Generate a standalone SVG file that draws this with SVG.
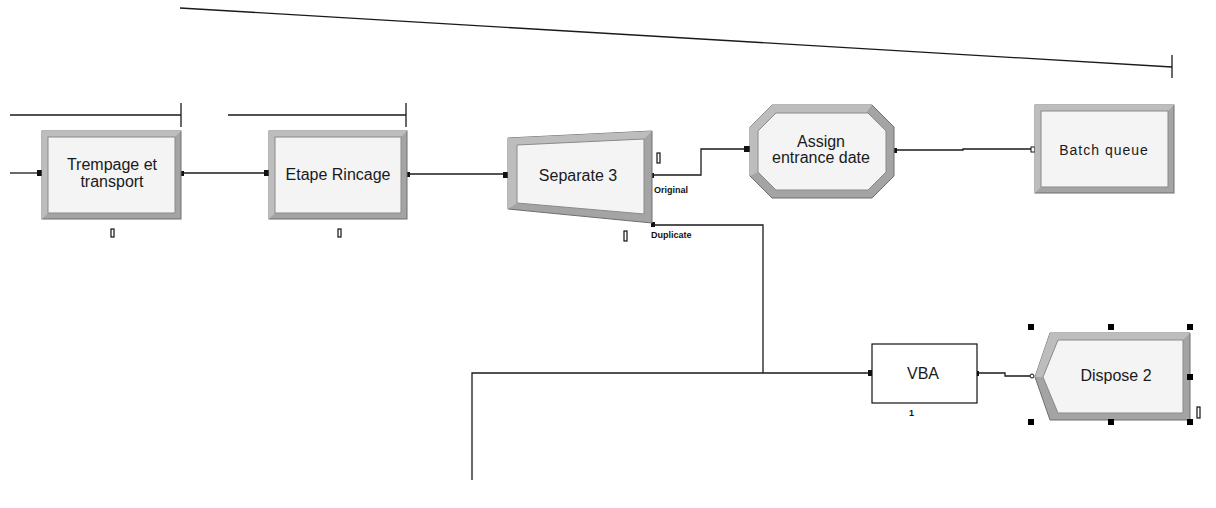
<svg xmlns="http://www.w3.org/2000/svg" width="1216" height="508" viewBox="0 0 1216 508">
<style>
.bev{fill:#a4a4a4;stroke:#6e6e6e;stroke-width:1}
.lit{fill:#bdbdbd}
.in{fill:#f4f4f4;stroke:#8a8a8a;stroke-width:1}
.lbl{font-family:"Liberation Sans",Arial,sans-serif;font-size:16px;fill:#1a1a1a;text-anchor:middle}
.sm{font-family:"Liberation Sans",Arial,sans-serif;font-size:9px;font-weight:bold;fill:#111}
.cn{fill:none;stroke:#1a1a1a;stroke-width:1.3}
.q{fill:none;stroke:#1a1a1a;stroke-width:1.3}
.ctr{fill:#fff;stroke:#111;stroke-width:1.2}
.pt{fill:#111}
.h{fill:#000}
</style>
<rect width="1216" height="508" fill="#ffffff"/>
<g id="queues">
<path class="q" d="M180,8 L1172,67 M1172,55 V78"/>
<path class="q" d="M10,115 H181 M181,103 V127"/>
<path class="q" d="M228,115 H406 M406,103 V127"/>
</g>
<g id="connectors">
<path class="cn" d="M10,173 H40"/>
<path class="cn" d="M182,173 H267"/>
<path class="cn" d="M408,174 H506"/>
<path class="cn" d="M652,175 H701 V149 H747"/>
<path class="cn" d="M895,150 H963 V149 H1032"/>
<path class="cn" d="M652,225 H763 V373"/>
<path class="cn" d="M472,480 V373 H870"/>
<path class="cn" d="M978,373 H1005 V376 H1030"/>
<rect class="pt" x="37" y="170" width="5" height="6"/>
<rect class="pt" x="181" y="171" width="3" height="5"/>
<rect class="pt" x="264" y="170" width="5" height="6"/>
<rect class="pt" x="407" y="172" width="3" height="5"/>
<rect class="pt" x="503" y="172" width="5" height="6"/>
<rect class="pt" x="651" y="173" width="3" height="5"/>
<rect class="pt" x="651" y="222" width="4" height="5"/>
<rect class="pt" x="744" y="146" width="6" height="6"/>
<rect class="pt" x="894" y="148" width="3" height="5"/>
<rect x="1031" y="147" width="4" height="5" fill="#fff" stroke="#111" stroke-width="1"/>
<rect class="pt" x="868" y="370" width="5" height="6"/>
<rect class="pt" x="976" y="371" width="3" height="5"/>
<circle cx="1032" cy="376" r="2" fill="#fff" stroke="#111" stroke-width="1"/>
</g>
<g id="trempage">
<rect class="bev" x="42" y="131" width="139" height="88"/>
<polygon class="lit" points="42,131 181,131 175,137 48,137 48,213 42,219"/>
<rect class="in" x="48" y="137" width="127" height="76"/>
<text class="lbl" x="112" y="170">Trempage et</text>
<text class="lbl" x="112" y="187">transport</text>
<rect class="ctr" x="111" y="229" width="3" height="8"/>
</g>
<g id="etape">
<rect class="bev" x="269" y="131" width="138" height="88"/>
<polygon class="lit" points="269,131 407,131 401,137 275,137 275,213 269,219"/>
<rect class="in" x="275" y="137" width="126" height="76"/>
<text class="lbl" x="338" y="180">Etape Rincage</text>
<rect class="ctr" x="338" y="229" width="3" height="8"/>
</g>
<g id="separate3">
<polygon class="bev" points="508,138 652,131 652,223 508,209"/>
<polygon class="lit" points="508,138 652,131 644,139 517,145 517,203 508,209"/>
<polygon class="in" points="517,145 644,139 644,214 517,203"/>
<text class="lbl" x="578" y="181">Separate 3</text>
<rect class="ctr" x="657" y="153" width="3" height="10"/>
<text class="sm" x="654" y="193">Original</text>
<text class="sm" x="651" y="238">Duplicate</text>
<rect class="ctr" x="624" y="231" width="3" height="10"/>
</g>
<g id="assign">
<polygon class="bev" points="772,105 872,105 894,127 894,176 872,198 772,198 750,176 750,127"/>
<polygon class="lit" points="772,105 872,105 866,113 776,113 758,131 758,172 750,176 750,127"/>
<polygon class="in" points="776,113 868,113 886,131 886,172 868,190 776,190 758,172 758,131"/>
<text class="lbl" x="821" y="147">Assign</text>
<text class="lbl" x="821" y="163">entrance date</text>
</g>
<g id="batch">
<rect class="bev" x="1035" y="105" width="139" height="88"/>
<polygon class="lit" points="1035,105 1174,105 1168,111 1041,111 1041,187 1035,193"/>
<rect class="in" x="1041" y="111" width="127" height="76"/>
<text class="lbl" x="1104" y="155" style="font-size:14px;letter-spacing:1px">Batch queue</text>
</g>
<g id="vba">
<rect x="872" y="344" width="105" height="59" fill="#fff" stroke="#111" stroke-width="1.2"/>
<text class="lbl" x="923" y="379">VBA</text>
<text class="sm" x="909" y="416">1</text>
</g>
<g id="dispose2">
<polygon class="bev" points="1050,333 1190,333 1190,420 1050,420 1035,377"/>
<polygon class="lit" points="1050,333 1190,333 1183,340 1058,340 1043,377 1035,377"/>
<polygon class="in" points="1058,340 1183,340 1183,413 1058,413 1043,377"/>
<text class="lbl" x="1116" y="381">Dispose 2</text>
<rect class="ctr" x="1197" y="407" width="3" height="11"/>
<rect class="h" x="1028" y="324" width="6" height="6"/>
<rect class="h" x="1108" y="324" width="6" height="6"/>
<rect class="h" x="1187" y="324" width="6" height="6"/>
<rect class="h" x="1187" y="374" width="6" height="6"/>
<rect class="h" x="1187" y="419" width="6" height="6"/>
<rect class="h" x="1108" y="419" width="6" height="6"/>
<rect class="h" x="1028" y="419" width="6" height="6"/>
</g>
</svg>
